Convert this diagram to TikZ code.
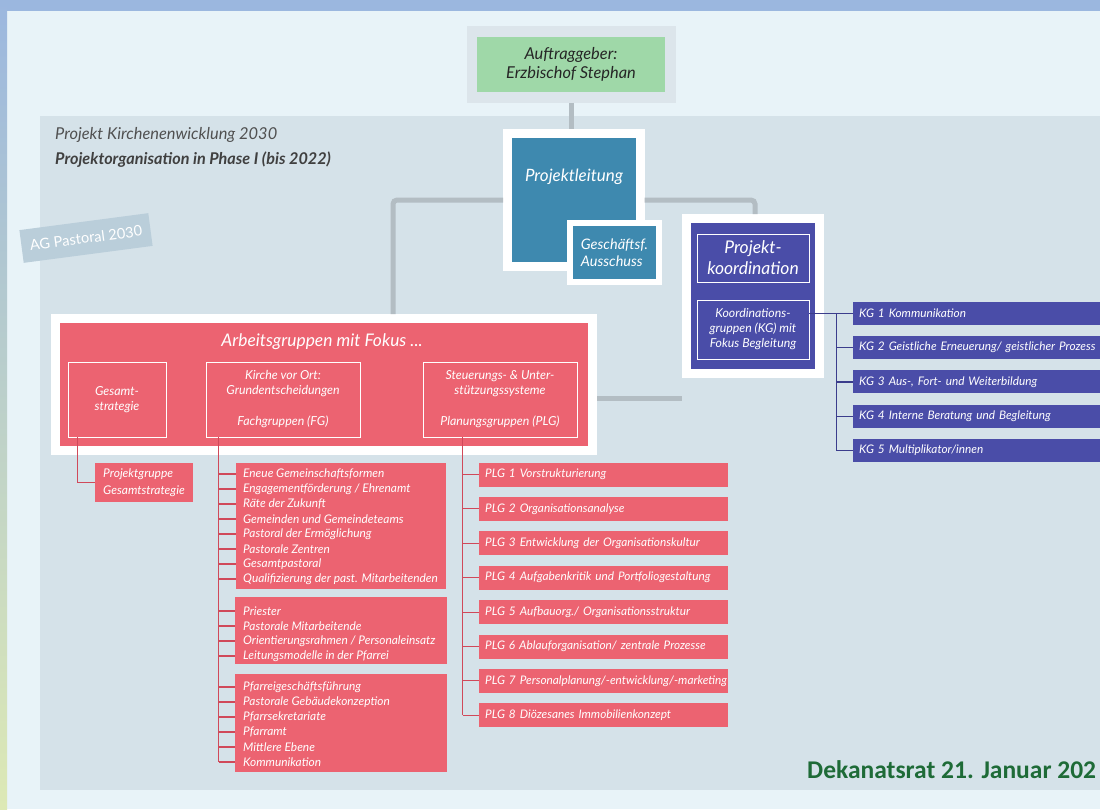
\documentclass[tikz,border=0pt]{standalone}
\usepackage{fontspec}
\setmainfont{Lato}
\newfontfamily\footfont{Carlito}
\usetikzlibrary{calc,positioning}

\definecolor{bgblue}{HTML}{E8F3F8}
\definecolor{stripblue}{HTML}{9BB7DF}
\definecolor{stripgreen}{HTML}{DDE9B5}
\definecolor{panelgray}{HTML}{D5E2E9}
\definecolor{linegray}{HTML}{B3BDC3}
\definecolor{taggray}{HTML}{BACEDA}
\definecolor{greenbox}{HTML}{9FD8A8}
\definecolor{auftragframe}{HTML}{DCE5EB}
\definecolor{leadblue}{HTML}{3E89AF}
\definecolor{koordblue}{HTML}{4A4DA8}
\definecolor{blueline}{HTML}{3B3D8C}
\definecolor{agred}{HTML}{EC6371}
\definecolor{redline}{HTML}{D0495A}
\definecolor{titlegray}{HTML}{505050}
\definecolor{footgreen}{HTML}{1E6B37}

\tikzset{
  every node/.style={font=\itshape},
  framebox/.style={draw=white, line width=9, text=white},
  thinbox/.style={draw=white, line width=0.8, text=white, align=center},
  listbox/.style={fill=agred, anchor=north west, inner sep=0},
  listitem/.style={anchor=west, inner sep=0, text=white, font=\itshape\fontsize{11.9}{13}\selectfont},
  barbox/.style={anchor=west, text=white, inner xsep=6, inner ysep=0, align=left, font=\itshape\fontsize{11.8}{13}\selectfont},
  plgbox/.style={barbox, fill=agred, text width=237, minimum height=24},
  kgbox/.style={barbox, fill=koordblue, text width=245, minimum height=23},
  grayconn/.style={draw=linegray, line width=5, rounded corners=4},
  redconn/.style={draw=redline, line width=1.1},
  blueconn/.style={draw=blueline, line width=1.1}
}

\begin{document}
\begin{tikzpicture}[x=1pt,y=-1pt]
  \useasboundingbox (0,0) rectangle (1100,809);
  \clip (0,0) rectangle (1100,809);
  % background
  \fill[bgblue] (0,0) rectangle (1100,809);
  \fill[stripblue] (0,0) rectangle (1100,11);
  \shade[top color=stripblue, bottom color=stripgreen] (0,0) rectangle (7,809);
  \fill[panelgray] (40,116) rectangle (1100,790);

  \node[anchor=west, inner sep=0, text=titlegray, font=\itshape\fontsize{16.4}{18}\selectfont] (titel1) at (55,135) {Projekt Kirchenenwicklung 2030};
  \node[anchor=west, inner sep=0, text=titlegray!80!black, font=\bfseries\itshape\fontsize{16.2}{18}\selectfont] (titel2) at (55,160) {Projektorganisation in Phase I (bis 2022)};
  \node[fill=taggray, text=white, minimum width=130, minimum height=33, rotate=7.5, font=\fontsize{14.6}{16}\selectfont] (tag) at (86,238) {AG Pastoral 2030};

  % top of the organisation
  \node[fill=greenbox, draw=auftragframe, line width=10.5, minimum width=198.5, minimum height=66, align=center, text=black!85, font=\itshape\fontsize{16.4}{19}\selectfont] (auftrag) at (571,64.5) {Auftraggeber:\\Erzbischof Stephan};

  \node[framebox, fill=leadblue, minimum width=132.5, minimum height=133] (lead) at (573.75,200) {};
  \node[text=white, font=\itshape\fontsize{17}{20}\selectfont] (leadtext) at (574,177) {Projektleitung};
  \node[draw=white, line width=6, fill=leadblue, minimum width=89, minimum height=58.5, text=white, align=left, font=\itshape\fontsize{14.5}{17}\selectfont] (ausschuss) at (614.5,252.25) {Geschäftsf.\\Ausschuss};

  \node[framebox, fill=koordblue, minimum width=133.5, minimum height=155] (koord) at (752.75,296) {};
  \node[thinbox, minimum width=112, minimum height=48, font=\itshape\fontsize{17.5}{21}\selectfont] (koordtitel) at (753,258) {Projekt-\\koordination};
  \node[thinbox, minimum width=112, minimum height=59, font=\itshape\fontsize{12.3}{15}\selectfont] (kgruppen) at (753,329.5) {Koordinations-\\gruppen (KG) mit\\Fokus Begleitung};

  % Arbeitsgruppen
  \node[framebox, fill=agred, minimum width=537, minimum height=132] (ag) at (324,384.5) {};
  \node[text=white, font=\itshape\fontsize{17.4}{20}\selectfont] (agtitel) at (322,342) {Arbeitsgruppen mit Fokus ...};
  \node[thinbox, minimum width=98, minimum height=75, font=\itshape\fontsize{12.4}{15}\selectfont] (gesamt) at (117,399.5) {Gesamt-\\strategie};
  \node[thinbox, minimum width=154, minimum height=75, font=\itshape\fontsize{12.4}{15}\selectfont] (kirche) at (283,399.5) {Kirche vor Ort:\\Grundentscheidungen\\[16pt]Fachgruppen (FG)};
  \node[thinbox, minimum width=154, minimum height=75, font=\itshape\fontsize{12.4}{15}\selectfont] (steuer) at (500,399.5) {Steuerungs- \& Unter-\\stützungssysteme\\[16pt]Planungsgruppen (PLG)};

  % gray connectors
  \coordinate (lbend) at (393,200);
  \coordinate (rbend) at (755,200);
  \coordinate (abend) at (640,398);
  \draw[grayconn] (auftrag.south) -- (auftrag.south |- lead.north);
  \draw[grayconn] (lead.west |- lbend) -- (lbend) -- (lbend |- ag.north);
  \draw[grayconn] (lead.east |- rbend) -- (rbend) -- (rbend |- koord.north);
  \draw[grayconn] (ag.east |- abend) -- (koord.west |- abend);

  % Gesamtstrategie
  \node[fill=agred, minimum width=98, minimum height=39, text=white, align=left, font=\itshape\fontsize{12}{17}\selectfont] (pgruppe) at (144,482.5) {Projektgruppe\\Gesamtstrategie};
  \draw[redconn] ([xshift=10]gesamt.south west) |- (pgruppe.west);

  % Fachgruppen
  \node[listbox, minimum width=210, minimum height=126] (fg1) at (236,463) {};
  \node[listbox, minimum width=212, minimum height=67] (fg2) at (235,597) {};
  \node[listbox, minimum width=212, minimum height=98] (fg3) at (235,674) {};
  \foreach \txt [count=\i] in {Eneue Gemeinschaftsformen, Engagementförderung / Ehrenamt, Räte der Zukunft, Gemeinden und Gemeindeteams, Pastoral der Ermöglichung, Pastorale Zentren, Gesamtpastoral, Qualifizierung der past. Mitarbeitenden}
    \node[listitem] (fa\i) at (243,{474+15*(\i-1)}) {\txt};
  \foreach \txt [count=\i] in {Priester, Pastorale Mitarbeitende, Orientierungsrahmen / Personaleinsatz, Leitungsmodelle in der Pfarrei}
    \node[listitem] (fb\i) at (243,{611+15*(\i-1)}) {\txt};
  \foreach \txt [count=\i] in {Pfarreigeschäftsführung, Pastorale Gebäudekonzeption, Pfarrsekretariate, Pfarramt, Mittlere Ebene, Kommunikation}
    \node[listitem] (fc\i) at (243,{687+15*(\i-1)}) {\txt};
  \coordinate (fgtop) at ([xshift=13]kirche.south west);
  \draw[redconn] (fgtop) -- (fgtop |- fc6.west);
  \foreach \i in {1,...,8} \draw[redconn] (fgtop |- fa\i.west) -- (fg1.west |- fa\i.west);
  \foreach \i in {1,...,4} \draw[redconn] (fgtop |- fb\i.west) -- (fg2.west |- fb\i.west);
  \foreach \i in {1,...,6} \draw[redconn] (fgtop |- fc\i.west) -- (fg3.west |- fc\i.west);

  % Planungsgruppen
  \foreach \txt [count=\i] in {PLG 1 Vorstrukturierung, PLG 2 Organisationsanalyse, PLG 3 Entwicklung der Organisationskultur, PLG 4 Aufgabenkritik und Portfoliogestaltung, PLG 5 Aufbauorg./ Organisationsstruktur, PLG 6 Ablauforganisation/ zentrale Prozesse, PLG 7 Personalplanung/-entwicklung/-marketing, PLG 8 Diözesanes Immobilienkonzept}
    \node[plgbox] (plg\i) at (479,{440.1+34.4*\i}) {\mbox{\txt}};
  \coordinate (plgtop) at ([xshift=40]steuer.south west);
  \draw[redconn] (plgtop) -- (plgtop |- plg8.west);
  \foreach \i in {1,...,8} \draw[redconn] (plgtop |- plg\i.west) -- (plg\i.west);

  % Koordinationsgruppen
  \foreach \txt [count=\i] in {KG 1 Kommunikation, KG 2 Geistliche Erneuerung/ geistlicher Prozess, {KG 3 Aus-, Fort- und Weiterbildung}, KG 4 Interne Beratung und Begleitung, KG 5 Multiplikator/innen}
    \node[kgbox] (kg\i) at (853,{279.2+34.25*\i}) {\mbox{\txt}};
  \coordinate (kgtop) at ($(kgruppen.east |- kg1.west)+(27,0)$);
  \draw[blueconn] (kgruppen.east |- kg1.west) -- (kg1.west);
  \draw[blueconn] (kgtop) -- (kgtop |- kg5.west);
  \foreach \i in {2,...,5} \draw[blueconn] (kgtop |- kg\i.west) -- (kg\i.west);

  \node[anchor=base west, inner sep=0, text=footgreen, font=\footfont\bfseries\fontsize{25.5}{30}\selectfont] (datum) at (807,778) {Dekanatsrat 21. Januar 202};
\end{tikzpicture}
\end{document}
